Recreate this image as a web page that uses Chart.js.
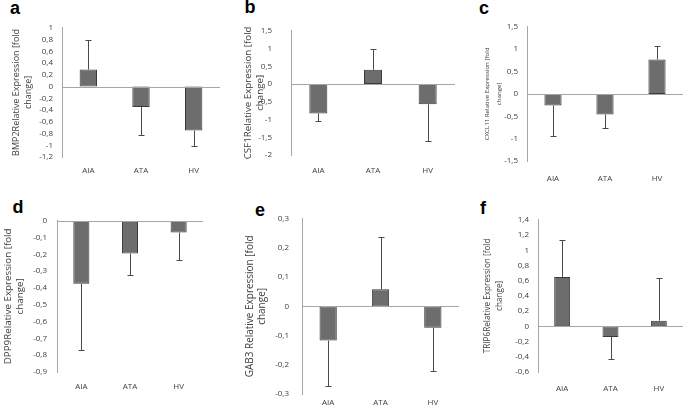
<!DOCTYPE html>
<html><head><meta charset="utf-8">
<script src="https://cdn.jsdelivr.net/npm/chart.js@4.4.1/dist/chart.umd.min.js"></script>
<style>
html,body{margin:0;padding:0;background:#fff;width:685px;height:416px;overflow:hidden;position:relative;font-family:"Liberation Sans",Arial,sans-serif;}
canvas{position:absolute;}
.lbl{position:absolute;font-weight:bold;font-size:18px;line-height:18px;color:#000;transform:translate(-50%,-50%);}
</style></head><body>
<div class="lbl" style="left:15px;top:8px">a</div>
<div class="lbl" style="left:250px;top:7px">b</div>
<div class="lbl" style="left:484px;top:8px">c</div>
<div class="lbl" style="left:18px;top:207px">d</div>
<div class="lbl" style="left:260px;top:210px">e</div>
<div class="lbl" style="left:483px;top:208px">f</div>
<script>
const categories = ["AIA", "ATA", "HV"];

const titleA = ["BMP2Relative Expression [fold", "change]"];
const ticksA = [1, 0.8, 0.6, 0.4, 0.2, 0, -0.2, -0.4, -0.6, -0.8, -1, -1.2];
const valuesA = [0.29, -0.35, -0.75];
const errEndA = [0.79, -0.82, -1.02];

const titleB = ["CSF1Relative Expression [fold", "change]"];
const ticksB = [1.5, 1, 0.5, 0, -0.5, -1, -1.5, -2];
const valuesB = [-0.83, 0.40, -0.57];
const errEndB = [-1.03, 0.98, -1.60];

const titleC = ["CXCL11 Relative Expression [fold", "change]"];
const ticksC = [1.5, 1, 0.5, 0, -0.5, -1, -1.5];
const valuesC = [-0.26, -0.46, 0.77];
const errEndC = [-0.94, -0.76, 1.06];

const titleD = ["DPP9Relative Expression [fold", "change]"];
const ticksD = [0, -0.1, -0.2, -0.3, -0.4, -0.5, -0.6, -0.7, -0.8, -0.9];
const valuesD = [-0.375, -0.195, -0.07];
const errEndD = [-0.77, -0.32, -0.235];

const titleE = ["GAB3 Relative Expression [fold", "change]"];
const ticksE = [0.3, 0.2, 0.1, 0, -0.1, -0.2, -0.3];
const valuesE = [-0.117, 0.059, -0.073];
const errEndE = [-0.274, 0.239, -0.22];

const titleF = ["TRIP6Relative Expression [fold", "change]"];
const ticksF = [1.4, 1.2, 1, 0.8, 0.6, 0.4, 0.2, 0, -0.2, -0.4, -0.6];
const valuesF = [0.65, -0.14, 0.075];
const errEndF = [1.14, -0.43, 0.63];

const FONT = "'Open Sans', 'Liberation Sans', sans-serif";
const measureCtx = document.createElement('canvas').getContext('2d');
function fitSize(text, target) {
  measureCtx.font = "10px " + FONT;
  const w = measureCtx.measureText(text).width;
  return 10 * target / w;
}

const errorBarPlugin = {
  id: 'errbars',
  afterDatasetsDraw(chart) {
    const ctx = chart.ctx;
    const y = chart.scales.y;
    const area = chart.chartArea;
    const z = Math.round(y.getPixelForValue(0)) + 0.5;
    ctx.save();
    ctx.strokeStyle = '#a6a6a6';
    ctx.lineWidth = 1;
    ctx.beginPath();
    ctx.moveTo(area.left, z);
    ctx.lineTo(area.right, z);
    ctx.stroke();
    const ends = chart.options.plugins.errbars.ends;
    const meta = chart.getDatasetMeta(0);
    ctx.strokeStyle = '#4a4a4a';
    meta.data.forEach((bar, i) => {
      const x = Math.round(bar.x) + 0.5;
      const y0 = bar.y;
      const y1 = Math.round(y.getPixelForValue(ends[i])) + 0.5;
      ctx.beginPath();
      ctx.moveTo(x, y0);
      ctx.lineTo(x, y1);
      ctx.moveTo(x - 3, y1);
      ctx.lineTo(x + 3, y1);
      ctx.stroke();
    });
    ctx.restore();
  }
};

function makePanel(p) {
  const lh = 12;
  const topPad = 10;
  const xH = 30;
  const left = Math.round(p.titleCenter - lh / 2);
  const wy = p.axisX - left;
  const width = wy + (p.right - p.axisX);
  const height = topPad + (p.bottom - p.top) + xH;
  const cv = document.createElement('canvas');
  cv.width = width; cv.height = height;
  cv.style.left = left + 'px';
  cv.style.top = (p.top - topPad) + 'px';
  cv.style.width = width + 'px';
  cv.style.height = height + 'px';
  document.body.appendChild(cv);
  const titleSize = fitSize(p.title[0], p.titleLen);
  new Chart(cv.getContext('2d'), {
    type: 'bar',
    data: {
      labels: categories,
      datasets: [{
        data: p.values,
        backgroundColor: '#6d6d6d',
        borderColor: '#3a3a3a',
        borderWidth: 1,
        borderSkipped: false,
        barPercentage: 0.33,
        categoryPercentage: 1
      }]
    },
    options: {
      responsive: false,
      animation: false,
      devicePixelRatio: 1,
      layout: { padding: { top: topPad, left: 0, right: 0, bottom: 0 } },
      plugins: { legend: { display: false }, tooltip: { enabled: false }, errbars: { ends: p.ends } },
      scales: {
        x: {
          grid: { display: false, drawTicks: false },
          border: { display: false },
          ticks: { color: '#404040', font: { family: FONT, size: 8 }, padding: p.labelY - p.bottom - 6, maxRotation: 0 },
          afterFit(axis) { axis.height = xH; }
        },
        y: {
          min: p.ticks[p.ticks.length - 1],
          max: p.ticks[0],
          grid: { display: false, drawTicks: false },
          border: { display: true, color: '#a6a6a6', width: 1 },
          afterBuildTicks(axis) { axis.ticks = p.ticks.map(v => ({ value: v })); },
          ticks: {
            color: '#404040',
            font: { family: FONT, size: 8 },
            padding: p.gap,
            autoSkip: false,
            callback: v => String(Math.round(v * 1000) / 1000).replace('.', ',')
          },
          title: {
            display: true,
            text: p.title,
            color: '#404040',
            font: { family: FONT, size: titleSize, lineHeight: lh / titleSize },
            padding: 0
          },
          afterFit(axis) { axis.width = wy; }
        }
      }
    },
    plugins: [errorBarPlugin]
  });
}

makePanel({ axisX: 62, top: 24, bottom: 157, right: 220, titleCenter: 16, gap: 9, labelY: 172, titleLen: 127, title: titleA, ticks: ticksA, values: valuesA, ends: errEndA });
makePanel({ axisX: 291, top: 17, bottom: 155, right: 455, titleCenter: 248, gap: 19, labelY: 172, titleLen: 133, title: titleB, ticks: ticksB, values: valuesB, ends: errEndB });
makePanel({ axisX: 527, top: 23, bottom: 161, right: 683, titleCenter: 487, gap: 9, labelY: 180, titleLen: 93, title: titleC, ticks: ticksC, values: valuesC, ends: errEndC });
makePanel({ axisX: 57, top: 216, bottom: 372, right: 203, titleCenter: 8, gap: 10, labelY: 388, titleLen: 136, title: titleD, ticks: ticksD, values: valuesD, ends: errEndD });
makePanel({ axisX: 302, top: 211, bottom: 394, right: 459, titleCenter: 250, gap: 13, labelY: 404, titleLen: 142, title: titleE, ticks: ticksE, values: valuesE, ends: errEndE });
makePanel({ axisX: 538, top: 216, bottom: 372, right: 683, titleCenter: 488, gap: 9, labelY: 390, titleLen: 115, title: titleF, ticks: ticksF, values: valuesF, ends: errEndF });
</script>
</body></html>
